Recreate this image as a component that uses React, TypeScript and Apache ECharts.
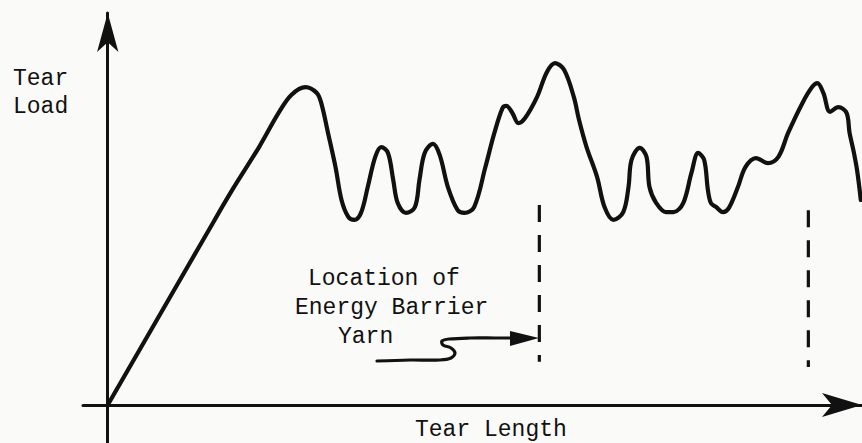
import React, { useEffect, useRef } from "react";
import * as echarts from "echarts";

// Tear length (arbitrary 0-100 scale) and tear load (arbitrary 0-100 scale)
const tearLength = [
  0, 13.3, 16.6, 20.2, 22.8, 24.5, 26.4, 27.9, 28.5, 29.4, 30.4, 31.2, 32.1, 32.9, 33.8, 34.7, 35.7,
  36.5, 37.4, 38.1, 38.7, 39.8, 41.0, 41.6, 42.3, 43.4, 44.3, 45.4, 46.7, 47.6, 48.9, 50.4, 51.6,
  52.7, 53.2, 54.0, 54.8, 55.7, 57.3, 58.6, 59.7, 60.9, 62.2, 62.9, 63.9, 65.3, 66.3, 67.5, 68.8,
  69.5, 69.9, 71.0, 71.9, 72.3, 73.2, 74.5, 75.5, 76.8, 77.9, 78.8, 79.6, 80.1, 80.5, 81.2, 82.1,
  82.9, 84.1, 85.1, 86.5, 88.1, 89.5, 90.8, 92.7, 94.0, 94.7, 95.5, 96.4, 97.5, 98.6, 99.0, 99.5,
  100.0, 100.5,
];
const tearLoad = [
  0, 44.0, 54.8, 65.8, 74.5, 79.1, 81.1, 79.6, 77.0, 69.4, 60.7, 52.3, 48.0, 47.2, 49.0, 55.6, 63.3,
  65.8, 64.3, 57.4, 51.5, 49.0, 50.5, 57.4, 64.3, 66.6, 63.8, 55.6, 49.7, 49.0, 50.5, 60.7, 69.4,
  75.8, 76.3, 74.5, 71.9, 73.2, 78.6, 84.9, 87.2, 85.5, 78.6, 72.7, 65.8, 58.2, 50.5, 47.2, 49.2,
  55.6, 62.5, 65.6, 63.3, 55.6, 51.5, 49.2, 49.2, 51.5, 59.2, 64.3, 62.5, 54.8, 51.5, 50.5, 49.2,
  50.3, 55.6, 60.7, 63.0, 61.7, 63.3, 69.4, 77.0, 81.1, 82.1, 79.6, 74.8, 76.0, 74.5, 69.4, 65.1,
  59.9, 52.3,
];

// Energy barrier yarn locations (tear length) and extent of the dashed markers (tear load)
const barrierLocations = [57.6, 93.5];
const barrierTop = [51.0, 49.7];
const barrierBottom = [11.0, 9.7];

const yLabelLines = ["Tear", "Load"];
const xLabel = "Tear Length";
const noteLines = ["Location of", "Energy Barrier", "Yarn"];

const FONT = "'Liberation Mono', 'DejaVu Sans Mono', monospace";
const INK = "#111111";

export default function App() {
  const ref = useRef<HTMLDivElement>(null);

  useEffect(() => {
    document.body.style.margin = "0";
    if (!ref.current) return;
    const chart = echarts.init(ref.current, undefined, { renderer: "svg" });

    const barrierSeries = barrierLocations.map((x, i) => ({
      type: "line",
      data: [
        [x, barrierTop[i]],
        [x, barrierBottom[i]],
      ],
      symbol: "none",
      clip: false,
      lineStyle: { color: INK, width: 3.2, type: [17, 13] },
      silent: true,
    }));

    const textStyle = (t: string) => ({
      text: t,
      font: `23px ${FONT}`,
      fill: INK,
      verticalAlign: "middle",
    });

    chart.setOption({
      animation: false,
      backgroundColor: "#fafaf8",
      grid: { left: 83, right: -5, top: 13, bottom: 0 },
      xAxis: {
        type: "value",
        min: -3.3,
        max: 100.66,
        splitLine: { show: false },
        axisTick: { show: false },
        axisLabel: { show: false },
        axisLine: {
          onZero: true,
          symbol: ["none", "arrow"],
          symbolSize: [18, 40],
          lineStyle: { color: INK, width: 3 },
        },
      },
      yAxis: {
        type: "value",
        min: -9.7,
        max: 100,
        splitLine: { show: false },
        axisTick: { show: false },
        axisLabel: { show: false },
        axisLine: {
          onZero: true,
          symbol: ["none", "arrow"],
          symbolSize: [16, 39],
          lineStyle: { color: INK, width: 3 },
        },
      },
      series: [
        {
          type: "line",
          data: tearLength.map((x, i) => [x, tearLoad[i]]),
          smooth: 0.35,
          symbol: "none",
          clip: false,
          lineStyle: { color: INK, width: 4.2, cap: "round", join: "round" },
        },
        ...barrierSeries,
      ],
      graphic: [
        { type: "text", left: 13, top: 79 - 12, style: textStyle(yLabelLines[0]) },
        { type: "text", left: 13, top: 107 - 12, style: textStyle(yLabelLines[1]) },
        { type: "text", left: 308, top: 279 - 12, style: textStyle(noteLines[0]) },
        { type: "text", left: 295, top: 308 - 12, style: textStyle(noteLines[1]) },
        { type: "text", left: 338, top: 337 - 12, style: textStyle(noteLines[2]) },
        { type: "text", left: 415, top: 430 - 12, style: textStyle(xLabel) },
        {
          type: "polyline",
          shape: {
            points: [
              [377, 361],
              [410, 360],
              [440, 360],
              [451, 358],
              [455, 353],
              [451, 348],
              [443, 345],
              [442, 341],
              [449, 339],
              [470, 338],
              [495, 338],
              [514, 338],
            ],
            smooth: 0.35,
          },
          style: { stroke: INK, lineWidth: 3.2, fill: null, lineCap: "round", lineJoin: "round" },
        },
        {
          type: "polygon",
          shape: {
            points: [
              [510, 331],
              [539, 338],
              [510, 346],
            ],
          },
          style: { fill: INK },
        },
      ],
    });

    return () => chart.dispose();
  }, []);

  return <div ref={ref} style={{ width: 862, height: 443 }} />;
}
